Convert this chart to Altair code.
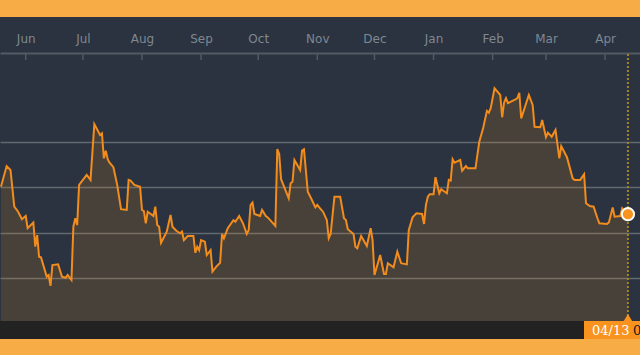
import altair as alt
import pandas as pd

# ---- data ----
dates = [
    "2018-05-19", "2018-05-22", "2018-05-24", "2018-05-26", "2018-05-28", "2018-05-30",
    "2018-06-01", "2018-06-02", "2018-06-05", "2018-06-06", "2018-06-07", "2018-06-08",
    "2018-06-09", "2018-06-12", "2018-06-13", "2018-06-14", "2018-06-15", "2018-06-18",
    "2018-06-20", "2018-06-22", "2018-06-23", "2018-06-25", "2018-06-26", "2018-06-27",
    "2018-06-28", "2018-06-29", "2018-07-01", "2018-07-03", "2018-07-05", "2018-07-07",
    "2018-07-10", "2018-07-11", "2018-07-12", "2018-07-13", "2018-07-14", "2018-07-15",
    "2018-07-17", "2018-07-19", "2018-07-21", "2018-07-24", "2018-07-25", "2018-07-26",
    "2018-07-28", "2018-07-31", "2018-08-01", "2018-08-02", "2018-08-03", "2018-08-04",
    "2018-08-07", "2018-08-08", "2018-08-09", "2018-08-10", "2018-08-11", "2018-08-14",
    "2018-08-16", "2018-08-17", "2018-08-19", "2018-08-21", "2018-08-22", "2018-08-23",
    "2018-08-25", "2018-08-28", "2018-08-29", "2018-08-30", "2018-08-31", "2018-09-01",
    "2018-09-03", "2018-09-04", "2018-09-06", "2018-09-07", "2018-09-09", "2018-09-11",
    "2018-09-12", "2018-09-13", "2018-09-15", "2018-09-18", "2018-09-19", "2018-09-21",
    "2018-09-23", "2018-09-25", "2018-09-26", "2018-09-27", "2018-09-28", "2018-09-29",
    "2018-10-02", "2018-10-03", "2018-10-05", "2018-10-06", "2018-10-10", "2018-10-11",
    "2018-10-12", "2018-10-13", "2018-10-17", "2018-10-18", "2018-10-19", "2018-10-20",
    "2018-10-23", "2018-10-24", "2018-10-25", "2018-10-27", "2018-10-29", "2018-10-31",
    "2018-11-01", "2018-11-02", "2018-11-04", "2018-11-06", "2018-11-07", "2018-11-08",
    "2018-11-10", "2018-11-13", "2018-11-15", "2018-11-16", "2018-11-17", "2018-11-20",
    "2018-11-21", "2018-11-22", "2018-11-24", "2018-11-27", "2018-11-29", "2018-11-30",
    "2018-12-01", "2018-12-04", "2018-12-06", "2018-12-07", "2018-12-08", "2018-12-11",
    "2018-12-13", "2018-12-15", "2018-12-18", "2018-12-19", "2018-12-21", "2018-12-23",
    "2018-12-26", "2018-12-27", "2018-12-28", "2018-12-29", "2018-12-30", "2019-01-01",
    "2019-01-02", "2019-01-04", "2019-01-05", "2019-01-08", "2019-01-09", "2019-01-10",
    "2019-01-11", "2019-01-12", "2019-01-15", "2019-01-16", "2019-01-18", "2019-01-19",
    "2019-01-23", "2019-01-25", "2019-01-27", "2019-01-29", "2019-01-30", "2019-01-31",
    "2019-02-02", "2019-02-05", "2019-02-06", "2019-02-07", "2019-02-08", "2019-02-09",
    "2019-02-13", "2019-02-14", "2019-02-15", "2019-02-16", "2019-02-20", "2019-02-22",
    "2019-02-23", "2019-02-26", "2019-02-27", "2019-03-01", "2019-03-02", "2019-03-04",
    "2019-03-06", "2019-03-08", "2019-03-09", "2019-03-12", "2019-03-15", "2019-03-16",
    "2019-03-19", "2019-03-21", "2019-03-22", "2019-03-24", "2019-03-26", "2019-03-28",
    "2019-03-29", "2019-04-02", "2019-04-03", "2019-04-05", "2019-04-06", "2019-04-09",
    "2019-04-10", "2019-04-13",
]
values = [
    60.2, 69.3, 67.6, 51.4, 49.2, 45.9,
    47.3, 41.9, 44.4, 33.8, 38.9, 29.4,
    29.1, 20.6, 21.3, 16.5, 25.7, 26.0,
    20.6, 20.1, 21.3, 19.1, 42.6, 46.3,
    43.3, 61.0, 63.2, 65.4, 63.2, 87.8,
    83.0, 83.7, 72.7, 76.1, 72.3, 70.8,
    68.8, 61.0, 50.3, 50.0, 63.2, 62.9,
    61.0, 60.2, 50.0, 49.5, 44.1, 49.2,
    47.3, 51.4, 43.3, 42.6, 35.5, 40.4,
    47.8, 42.6, 40.8, 39.7, 40.4, 36.7,
    38.5, 38.5, 31.1, 33.8, 32.3, 36.7,
    36.0, 30.1, 32.3, 22.8, 25.0, 26.7,
    39.4, 37.5, 41.9, 45.5, 44.8, 47.3,
    44.1, 39.4, 41.1, 52.2, 53.2, 48.2,
    47.3, 50.0, 47.3, 46.7, 42.9, 76.8,
    74.6, 63.5, 55.1, 61.7, 62.4, 72.0,
    67.6, 76.1, 76.7, 58.0, 54.7, 51.1,
    52.2, 51.1, 49.2, 45.5, 37.5, 39.4,
    55.8, 55.8, 46.3, 45.5, 41.5, 39.4,
    33.8, 33.1, 38.5, 34.1, 41.9, 36.7,
    21.3, 30.1, 21.8, 21.8, 26.5, 24.7,
    31.6, 26.5, 26.0, 41.1, 46.7, 48.5,
    48.2, 43.8, 52.2, 55.8, 56.9, 56.9,
    64.4, 57.3, 59.1, 57.3, 63.2, 62.9,
    72.3, 70.8, 72.0, 67.3, 69.3, 68.3,
    68.3, 80.0, 85.9, 93.6, 92.8, 94.8,
    103.6, 100.6, 90.8, 97.2, 99.2, 97.0,
    98.7, 99.2, 101.6, 90.3, 100.6, 96.2,
    86.6, 86.4, 89.6, 82.0, 84.0, 82.2,
    85.2, 72.7, 78.1, 73.2, 63.9, 63.2,
    63.2, 65.7, 52.9, 51.7, 51.4, 46.3,
    44.1, 43.8, 44.5, 51.1, 47.0, 47.3,
    50.7, 48.1,
]
month_ticks = ["2018-06-01", "2018-07-01", "2018-08-01", "2018-09-01", "2018-10-01",
               "2018-11-01", "2018-12-01", "2019-01-01", "2019-02-01", "2019-03-01",
               "2019-04-01"]
grid_values = [20, 40, 60, 80]
last_label = ["04/13"]
cut_label = ["0"]

# ---- styling ----
W, H = 640, 268
BG = "#2a333f"
ORANGE = "#f7931e"
BAND = "#f8ac45"

df = pd.DataFrame({"date": dates, "value": values})
last = df.iloc[[-1]].assign(label=last_label, cut=cut_label)
ticks_df = pd.DataFrame({"m": month_ticks})
one = pd.DataFrame({"k": [0]})


def dt(s):
    y, m, d = (int(p) for p in s.split("-"))
    return alt.DateTime(year=y, month=m, date=d, utc=True)


x_scale = alt.Scale(
    type="utc",
    domain=[alt.DateTime(year=2018, month=5, date=18, hours=12, utc=True),
            alt.DateTime(year=2019, month=4, date=19, hours=8, utc=True)],
)
y_scale = alt.Scale(domain=[1.06, 119.1], zero=False, nice=False)

x_axis = alt.Axis(
    orient="top", values=[dt(s) for s in month_ticks],
    labelExpr="utcFormat(datum.value, '%b')",
    labelFlush=False, labelOverlap=False, ticks=False, labelPadding=8,
    labelColor="#7f8893", labelFont="DejaVu Sans", labelFontSize=12,
    domainColor="#525a64", domainWidth=2, grid=False, title=None,
)
y_axis = alt.Axis(
    values=grid_values, grid=True, gridColor="#626870", gridWidth=1.5,
    labels=False, ticks=False, domain=False, title=None,
)

area = alt.Chart(df).mark_area(color=ORANGE, opacity=0.15).encode(
    x=alt.X("date:T", scale=x_scale, axis=x_axis),
    y=alt.Y("value:Q", scale=y_scale, axis=y_axis),
    y2=alt.value(H),
)
line = alt.Chart(df).mark_line(color="#f28c1c", strokeWidth=2).encode(
    x="date:T", y="value:Q"
)
month_rules = alt.Chart(ticks_df).mark_rule(color="#525a64", strokeWidth=1.5).encode(
    x="m:T", y=alt.value(0), y2=alt.value(7)
)
vrule = alt.Chart(last).mark_rule(color="#a8821f", strokeWidth=2, strokeDash=[2, 2]).encode(
    x="date:T", y=alt.value(1), y2=alt.value(H)
)
dot = alt.Chart(last).mark_point(
    filled=True, fill=ORANGE, stroke="white", strokeWidth=2, size=150, opacity=1
).encode(x="date:T", y="value:Q")

top_band = alt.Chart(one).mark_rect(color=BAND).encode(
    x=alt.value(0), x2=alt.value(W), y=alt.value(-53), y2=alt.value(-36)
)
bottom_bar = alt.Chart(one).mark_rect(color="#222222").encode(
    x=alt.value(0), x2=alt.value(W), y=alt.value(H), y2=alt.value(H + 18)
)
bottom_band = alt.Chart(one).mark_rect(color=BAND).encode(
    x=alt.value(0), x2=alt.value(W), y=alt.value(H + 18), y2=alt.value(H + 34)
)
label_box = alt.Chart(one).mark_rect(color=ORANGE).encode(
    x=alt.value(584), x2=alt.value(W), y=alt.value(H), y2=alt.value(H + 18)
)
tri = alt.Chart(last).mark_point(
    shape="triangle-up", filled=True, fill=ORANGE, size=70, opacity=1
).encode(x="date:T", y=alt.value(H - 3.5))
label_txt = alt.Chart(last).mark_text(
    color="white", font="DejaVu Serif", fontSize=13, align="left", baseline="alphabetic"
).encode(x=alt.value(592), y=alt.value(H + 14), text="label:N")
cut_txt = alt.Chart(last).mark_text(
    color="#1a1a1a", font="DejaVu Serif", fontSize=13, align="left", baseline="alphabetic"
).encode(x=alt.value(633), y=alt.value(H + 14), text="cut:N")

chart = alt.layer(
    area, line, month_rules, vrule, dot,
    top_band, bottom_bar, bottom_band, label_box, tri, label_txt, cut_txt,
).properties(
    width=W, height=H,
    autosize=alt.AutoSizeParams(type="none"),
    padding={"top": 53, "bottom": 34, "left": 0, "right": 0},
    background=BG,
).configure_view(stroke=None, fill=BG)

chart.save("out.html", embed_options={"renderer": "svg", "actions": False})
